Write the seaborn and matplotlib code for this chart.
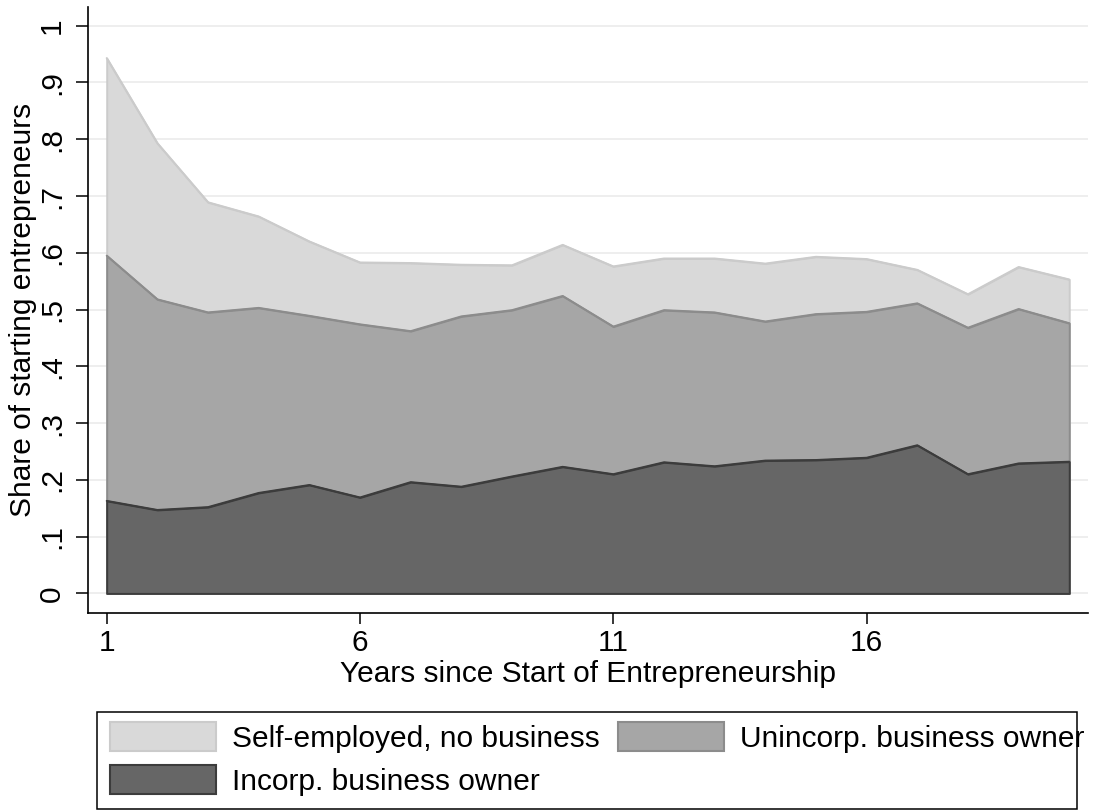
import matplotlib
matplotlib.use("Agg")
import matplotlib.pyplot as plt
from matplotlib.patches import Patch, Rectangle
import seaborn as sns
import pandas as pd

# Years since start of entrepreneurship
years = list(range(1, 21))

# Share of starting entrepreneurs in each state (stacked from the bottom)
incorp = [0.163, 0.147, 0.152, 0.177, 0.191, 0.169, 0.196, 0.188, 0.206, 0.223,
          0.210, 0.231, 0.224, 0.234, 0.235, 0.239, 0.261, 0.210, 0.229, 0.232]
unincorp = [0.432, 0.371, 0.343, 0.326, 0.298, 0.305, 0.266, 0.300, 0.293, 0.301,
            0.260, 0.268, 0.271, 0.245, 0.257, 0.257, 0.250, 0.258, 0.272, 0.244]
self_emp = [0.348, 0.275, 0.194, 0.161, 0.131, 0.109, 0.120, 0.091, 0.079, 0.090,
            0.106, 0.091, 0.095, 0.102, 0.101, 0.093, 0.059, 0.059, 0.074, 0.077]

labels = ["Self-employed, no business", "Unincorp. business owner", "Incorp. business owner"]
fills = ["#d9d9d9", "#a6a6a6", "#666666"]
edges = ["#cbcbcb", "#8c8c8c", "#3c3c3c"]

x_ticks = [1, 6, 11, 16]
y_ticks = [0, 0.1, 0.2, 0.3, 0.4, 0.5, 0.6, 0.7, 0.8, 0.9, 1.0]
y_tick_labels = ["0", ".1", ".2", ".3", ".4", ".5", ".6", ".7", ".8", ".9", "1"]

df = pd.DataFrame({"year": years, "incorp": incorp, "unincorp": unincorp, "self": self_emp})
df["lvl_incorp"] = df["incorp"]
df["lvl_unincorp"] = df["incorp"] + df["unincorp"]
df["lvl_self"] = df["lvl_unincorp"] + df["self"]

sns.set_theme(style="white", rc={"text.color": "black", "axes.labelcolor": "black",
                                 "xtick.color": "black", "ytick.color": "black"})
plt.rcParams["font.family"] = ["Liberation Sans", "DejaVu Sans"]
FS = 21.5

fig = plt.figure(figsize=(10.95, 8.11), dpi=100)
ax = fig.add_axes([87.7 / 1095, 1 - 612.7 / 811, (1088 - 87.7) / 1095, (612.7 - 7) / 811])

ax.set_xlim(0.625, 20.37)
ax.set_ylim(-0.034, 1.033)

for yt in y_ticks:
    ax.axhline(yt, color="#ebebeb", lw=1.2, zorder=0)

# Areas drawn from the baseline, largest first
levels = ["lvl_self", "lvl_unincorp", "lvl_incorp"]
for i, col in enumerate(levels):
    ax.fill_between(df["year"], 0, df[col], facecolor=fills[i], edgecolor=edges[i],
                    linewidth=1.4, zorder=2 + i)
    sns.lineplot(data=df, x="year", y=col, ax=ax, color=edges[i], lw=1.4,
                 zorder=2.5 + i, legend=False)

ax.set_xticks(x_ticks)
ax.set_xticklabels([str(t) for t in x_ticks], fontsize=FS, color="black")
ax.set_yticks(y_ticks)
ax.set_yticklabels(y_tick_labels, fontsize=FS, rotation=90, va="center", color="black")

ax.tick_params(axis="x", direction="out", length=8, width=1.1, color="black", pad=4, bottom=True)
ax.tick_params(axis="y", direction="out", length=8.6, width=1.1, color="black", pad=7, left=True)

for s in ["top", "right"]:
    ax.spines[s].set_visible(False)
for s in ["left", "bottom"]:
    ax.spines[s].set_color("black")
    ax.spines[s].set_linewidth(1.2)

ax.set_xlabel("Years since Start of Entrepreneurship", fontsize=FS, labelpad=2, color="black")
ax.set_ylabel("Share of starting entrepreneurs", fontsize=FS, color="black")
ax.yaxis.set_label_coords(-0.0507, 0.5)

order = [0, 2, 1]
handles = [Patch(facecolor=fills[i], edgecolor=edges[i], linewidth=1.5) for i in order]
fs_px = FS * 100 / 72
leg = fig.legend(handles, [labels[i] for i in order], loc="upper left",
                 bbox_to_anchor=(110 / 1095, 1 - 722 / 811), ncol=2, frameon=False,
                 borderpad=0, borderaxespad=0, fontsize=FS,
                 handlelength=106 / fs_px, handleheight=33 / fs_px,
                 handletextpad=16 / fs_px, columnspacing=18 / fs_px, labelspacing=0.42)
for t in leg.get_texts():
    t.set_color("black")
fig.patches.append(Rectangle((97 / 1095, 2 / 811), (1077 - 97) / 1095, (809 - 711.7) / 811,
                             transform=fig.transFigure, fill=False, edgecolor="black", lw=1.1))

fig.savefig("out.png", dpi=100)
